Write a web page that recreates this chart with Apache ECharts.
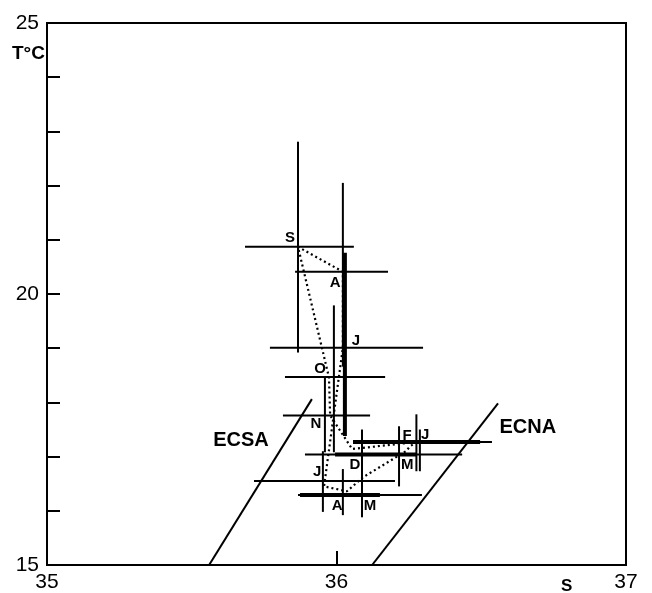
<!DOCTYPE html>
<html>
<head>
<meta charset="utf-8">
<script src="https://cdn.jsdelivr.net/npm/echarts@6/dist/echarts.min.js"></script>
<style>
  html, body { margin: 0; padding: 0; background: #fff; }
  #chart { width: 652px; height: 593px; }
</style>
</head>
<body>
<div id="chart"></div>
<script>
// Monthly mean salinity / temperature (T-S diagram)
const months = ['J', 'F', 'M', 'A', 'M', 'J', 'J', 'A', 'S', 'O', 'N', 'D'];
const meanS = [36.278, 36.254, 36.240, 36.092, 36.036, 35.957, 36.022, 36.022, 35.867, 35.974, 35.978, 36.054];
const meanT = [17.27, 17.19, 17.10, 16.62, 16.36, 16.45, 19.01, 20.41, 20.87, 18.46, 17.76, 17.14];

// Where each month's letter is written (S, T)
const labelS = [36.306, 36.244, 36.244, 36.002, 36.116, 35.933, 36.067, 35.995, 35.839, 35.943, 35.929, 36.064];
const labelT = [17.41, 17.39, 16.84, 16.10, 16.10, 16.71, 19.14, 20.21, 21.04, 18.61, 17.60, 16.84];

// Salinity ranges drawn as horizontal bars: [T, S min, S max]
const salinityRanges = [
  [20.87, 35.684, 36.060],
  [20.41, 35.857, 36.178],
  [19.01, 35.770, 36.299],
  [18.47, 35.822, 36.168],
  [17.76, 35.815, 36.116],
  [17.27, 36.057, 36.537],
  [17.04, 35.891, 36.434],
  [16.55, 35.715, 36.202],
  [16.29, 35.867, 36.295]
];
// Heavier salinity ranges: [T, S min, S max]
const salinityRangesHeavy = [
  [17.27, 36.057, 36.496],
  [17.04, 35.995, 36.278],
  [16.29, 35.874, 36.150]
];
// Temperature ranges drawn as vertical bars: [S, T min, T max]
const temperatureRanges = [
  [35.867, 18.92, 22.81],
  [36.022, 18.66, 22.05],
  [35.991, 17.08, 19.79],
  [35.960, 17.08, 18.47],
  [35.953, 15.98, 17.10],
  [36.022, 15.92, 16.77],
  [36.088, 15.88, 17.50],
  [36.216, 16.45, 17.56],
  [36.276, 16.73, 17.78],
  [36.288, 16.73, 17.50]
];
// Heavier temperature range: [S, T min, T max]
const temperatureRangesHeavy = [
  [36.029, 17.38, 20.76]
];

// Central water reference lines
const waterNames = ['ECSA', 'ECNA'];
const waterLines = [
  [[35.560, 15.00], [35.915, 18.06]],
  [[36.123, 15.00], [36.558, 17.98]]
];
const waterLabelS = [35.670, 36.661];
const waterLabelT = [17.30, 17.54];

const xTickLabels = [35, 36, 37];
const yTickLabels = [15, 20, 25];

const FONT = "'Liberation Sans', Arial, Helvetica, sans-serif";

function toSegments(hRanges, vRanges) {
  const segs = [];
  hRanges.forEach(r => segs.push([r[1], r[0], r[2], r[0]]));
  vRanges.forEach(r => segs.push([r[0], r[1], r[0], r[2]]));
  return segs;
}

function segmentRenderer(width) {
  return function (params, api) {
    const p1 = api.coord([api.value(0), api.value(1)]);
    const p2 = api.coord([api.value(2), api.value(3)]);
    return {
      type: 'line',
      shape: { x1: p1[0], y1: p1[1], x2: p2[0], y2: p2[1] },
      style: { stroke: '#000', lineWidth: width, lineCap: 'butt' }
    };
  };
}

function textRenderer(names, size) {
  return function (params, api) {
    const p = api.coord([api.value(0), api.value(1)]);
    return {
      type: 'text',
      x: p[0], y: p[1],
      style: {
        text: names[params.dataIndex],
        font: 'bold ' + size + 'px ' + FONT,
        fill: '#000',
        align: 'center',
        verticalAlign: 'middle'
      }
    };
  };
}

const thinSegs = toSegments(salinityRanges, temperatureRanges);
const heavySegs = toSegments(salinityRangesHeavy, temperatureRangesHeavy);
const waterSegs = waterLines.map(l => [l[0][0], l[0][1], l[1][0], l[1][1]]);

const meanPath = meanS.map((s, i) => [s, meanT[i]]);
meanPath.push([meanS[0], meanT[0]]);

const chart = echarts.init(document.getElementById('chart'), null, { renderer: 'canvas' });

const segSeries = (name, data, width) => ({
  type: 'custom', name: name,
  dimensions: ['s1', 't1', 's2', 't2'],
  encode: { x: [0, 2], y: [1, 3] },
  renderItem: segmentRenderer(width),
  data: data, clip: true, silent: true
});

chart.setOption({
  backgroundColor: '#fff',
  animation: false,
  grid: {
    left: 47, right: 26, top: 23, bottom: 27,
    show: true, borderColor: '#000', borderWidth: 2, backgroundColor: 'transparent'
  },
  xAxis: {
    type: 'value', min: 35, max: 37, interval: 1,
    axisLine: { show: true, lineStyle: { color: '#000', width: 2 } },
    axisTick: { show: true, inside: true, length: 14, lineStyle: { color: '#000', width: 2 } },
    splitLine: { show: false },
    axisLabel: {
      color: '#000', fontSize: 21, fontFamily: FONT, margin: 7,
      formatter: v => (xTickLabels.indexOf(Math.round(v)) >= 0 ? String(Math.round(v)) : '')
    }
  },
  yAxis: {
    type: 'value', min: 15, max: 25, interval: 1,
    axisLine: { show: true, lineStyle: { color: '#000', width: 2 } },
    axisTick: { show: true, inside: true, length: 13, lineStyle: { color: '#000', width: 2 } },
    splitLine: { show: false },
    axisLabel: {
      color: '#000', fontSize: 21, fontFamily: FONT, margin: 8,
      formatter: v => (yTickLabels.indexOf(Math.round(v)) >= 0 ? String(Math.round(v)) : '')
    }
  },
  graphic: [
    { type: 'text', left: 12, top: 44, style: { text: 'T°C', font: 'bold 19px ' + FONT, fill: '#000' } },
    { type: 'text', left: 561, top: 578, style: { text: 'S', font: 'bold 17px ' + FONT, fill: '#000' } }
  ],
  series: [
    segSeries('water', waterSegs, 2),
    segSeries('ranges', thinSegs, 2),
    segSeries('rangesHeavy', heavySegs, 4),
    {
      type: 'line', name: 'means',
      data: meanPath,
      symbol: 'none',
      lineStyle: { color: '#000', width: 2.2, type: [2, 3] },
      silent: true
    },
    {
      type: 'custom', name: 'monthLabels',
      dimensions: ['s', 't'],
      encode: { x: 0, y: 1 },
      renderItem: textRenderer(months, 15),
      data: labelS.map((s, i) => [s, labelT[i]]),
      silent: true
    },
    {
      type: 'custom', name: 'waterLabels',
      dimensions: ['s', 't'],
      encode: { x: 0, y: 1 },
      renderItem: textRenderer(waterNames, 20),
      data: waterLabelS.map((s, i) => [s, waterLabelT[i]]),
      silent: true
    }
  ]
});
</script>
</body>
</html>
